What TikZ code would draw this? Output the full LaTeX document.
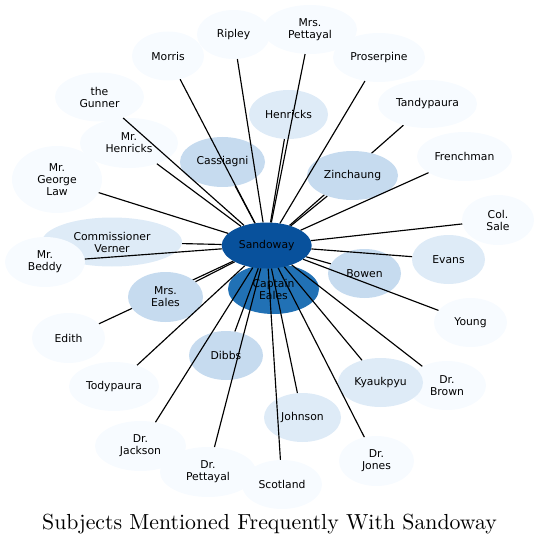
\documentclass[tikz,border=0pt]{standalone}
\usepackage{fontspec}
\newfontfamily\lblfont{DejaVu Sans}
\newfontfamily\titlefont{lmroman10-regular}[Extension=.otf]
\usetikzlibrary{shapes.geometric}
\pgfdeclarelayer{bg}
\pgfsetlayers{bg,main}
\definecolor{Lzero}{HTML}{F7FBFF}
\definecolor{Lone}{HTML}{DEEBF7}
\definecolor{Ltwo}{HTML}{C6DBEF}
\definecolor{Lcap}{HTML}{2171B5}
\definecolor{Lsan}{HTML}{08519C}
\tikzset{
  ell/.style={ellipse, draw=none, inner sep=0pt, align=center,
    font=\lblfont\fontsize{10.8}{12}\selectfont, text=black},
  edge/.style={draw=black, line width=1.15pt},
}
\newcommand{\nd}[7]{\node[ell, minimum width=#4pt, minimum height=#5pt, fill=#6] (#1) at (#2,-#3) {#7};}
\begin{document}
\begin{tikzpicture}[x=1pt,y=1pt]
\useasboundingbox (0,0) rectangle (540,-545);
% nodes
\nd{ce}{273.5}{289}{91}{50}{Lcap}{Captain\\Eales}
\nd{s}{266.7}{245.5}{90}{46}{Lsan}{Sandoway}
\nd{morris}{168}{56}{72}{49}{Lzero}{Morris}
\nd{ripley}{233.5}{34.5}{73}{49}{Lzero}{Ripley}
\nd{mrspettayal}{310}{29.5}{94}{49}{Lzero}{Mrs.\\Pettayal}
\nd{gunner}{99.5}{97}{89}{49}{Lzero}{the\\Gunner}
\nd{mrhenricks}{129}{143}{98}{50}{Lzero}{Mr.\\Henricks}
\nd{cassiagni}{222.5}{162}{85}{50}{Ltwo}{Cassiagni}
\nd{law}{57}{179.5}{90}{67}{Lzero}{Mr.\\George\\Law}
\nd{verner}{112}{242}{140}{49}{Lone}{Commissioner\\Verner}
\nd{beddy}{45}{262}{80}{50}{Lzero}{Mr.\\Beddy}
\nd{henricks}{288.5}{114.5}{79}{49}{Lone}{Henricks}
\nd{proserpine}{379}{57.5}{92}{49}{Lzero}{Proserpine}
\nd{tandypaura}{427.5}{104}{99}{48}{Lzero}{Tandypaura}
\nd{frenchman}{464.5}{156.5}{95}{49}{Lzero}{Frenchman}
\nd{zinchaung}{352.5}{175.5}{91}{49}{Ltwo}{Zinchaung}
\nd{colsale}{498}{220}{72}{50}{Lzero}{Col.\\Sale}
\nd{evans}{448.5}{259.5}{73}{49}{Lone}{Evans}
\nd{bowen}{364.5}{273.5}{73}{49}{Ltwo}{Bowen}
\nd{young}{470.5}{322.5}{73}{49}{Lzero}{Young}
\nd{drbrown}{447}{385.5}{78}{49}{Lzero}{Dr.\\Brown}
\nd{kyaukpyu}{380.5}{382.5}{85}{49}{Lone}{Kyaukpyu}
\nd{johnson}{302.5}{417.5}{77}{49}{Lone}{Johnson}
\nd{drjones}{376.5}{461}{75}{50}{Lzero}{Dr.\\Jones}
\nd{mrseales}{165.5}{297}{75}{50}{Ltwo}{Mrs.\\Eales}
\nd{edith}{68.5}{338}{73}{50}{Lzero}{Edith}
\nd{dibbs}{226}{355.5}{74}{49}{Ltwo}{Dibbs}
\nd{todypaura}{114}{386.5}{90}{49}{Lzero}{Todypaura}
\nd{drjackson}{140.5}{446}{91}{50}{Lzero}{Dr.\\Jackson}
\nd{drpettayal}{208}{472}{96}{50}{Lzero}{Dr.\\Pettayal}
\nd{scotland}{282}{484.5}{80}{49}{Lzero}{Scotland}
% edges
\begin{pgfonlayer}{bg}
\draw[edge] (s) -- (tandypaura);
\draw[edge] (s) -- (edith);
\end{pgfonlayer}
\foreach \t in {morris,ripley,mrspettayal,gunner,mrhenricks,cassiagni,law,verner,beddy,henricks,proserpine,frenchman,zinchaung,colsale,evans,bowen,young,drbrown,kyaukpyu,johnson,drjones,mrseales,dibbs,todypaura,drjackson,drpettayal,scotland}
  \draw[edge] (s) -- (\t);
% title
\node[anchor=base, font=\titlefont\fontsize{21.8}{26}\selectfont, inner sep=0pt] (title) at (269.5,-529) {Subjects Mentioned Frequently With Sandoway};
\end{tikzpicture}
\end{document}
